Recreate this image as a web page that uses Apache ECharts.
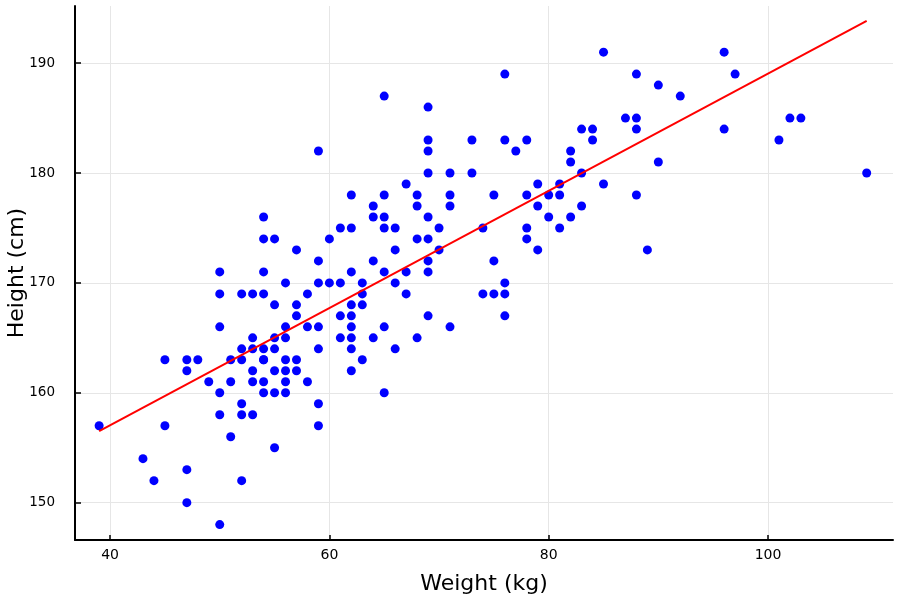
<!DOCTYPE html>
<html>
<head>
<meta charset="utf-8">
<script src="https://cdn.jsdelivr.net/npm/echarts@6/dist/echarts.min.js"></script>
<style>html,body{margin:0;padding:0;background:#fff}#c{width:900px;height:600px}</style>
</head>
<body>
<div id="c"></div>
<script>
// Observations: [weight kg, height cm]
const weights = [39,43,44,45,45,47,47,47,47,48,49,
  50,50,50,50,50,50,51,51,51,
  52,52,52,52,52,52,53,53,53,53,53,53,
  54,54,54,54,54,54,54,54,54,
  55,55,55,55,55,55,55,
  56,56,56,56,56,56,56,
  57,57,57,57,57,58,58,58,
  59,59,59,59,59,59,59,60,60,
  61,61,61,61,
  62,62,62,62,62,62,62,62,62,
  63,63,63,63,64,64,64,64,
  65,65,65,65,65,65,65,
  66,66,66,66,67,67,67,68,68,68,68,
  69,69,69,69,69,69,69,69,69,
  70,70,71,71,71,71,73,73,74,74,75,75,75,
  76,76,76,76,76,77,78,78,78,78,79,79,79,80,80,
  81,81,81,82,82,82,83,83,83,84,84,85,85,87,
  88,88,88,88,89,90,90,92,96,96,97,101,102,103,109];
const heights = [157,154,152,163,157,163,162,153,150,163,161,
  171,169,166,160,158,148,163,161,156,
  169,164,163,159,158,152,169,165,164,162,161,158,
  176,174,171,169,164,163,161,160,163,
  174,168,165,164,162,160,155,
  170,166,165,163,162,161,160,
  173,168,167,163,162,169,166,161,
  182,172,170,166,164,159,157,174,170,
  175,170,167,165,
  178,175,171,168,167,166,165,164,162,
  170,169,168,163,177,176,172,165,
  187,178,176,175,171,166,160,
  175,173,170,164,179,171,169,178,177,174,165,
  186,183,182,180,176,174,172,171,167,
  175,173,180,178,177,166,183,180,175,169,178,172,169,
  189,183,170,169,167,182,183,178,175,174,179,177,173,178,176,
  179,178,175,182,181,176,184,180,177,184,183,191,179,185,
  189,185,184,178,173,188,181,187,191,184,189,183,185,185,180];
// Fitted line endpoints
const fitX = [39, 109];
const fitY = [156.5, 193.85];
const xTicks = [40, 60, 80, 100];
const yTicks = [150, 160, 170, 180, 190];

const pts = weights.map((w, i) => [w, heights[i]]);
const fit = fitX.map((x, i) => [x, fitY[i]]);

const font = 'DejaVu Sans';
const chart = echarts.init(document.getElementById('c'), null, {renderer: 'canvas'});
chart.setOption({
  animation: false,
  backgroundColor: '#ffffff',
  grid: {left: 75, right: 7, top: 6, bottom: 60, containLabel: false, outerBoundsMode: 'none'},
  xAxis: {
    type: 'value', min: 36.8, max: 111.4,
    name: 'Weight (kg)', nameLocation: 'middle', nameGap: 33,
    nameTextStyle: {fontFamily: font, fontSize: 22, color: '#000'},
    axisLine: {show: true, onZero: false, lineStyle: {color: '#000', width: 2}},
    axisTick: {show: true, inside: true, length: 5, customValues: xTicks, lineStyle: {color: '#000', width: 1.5}},
    axisLabel: {customValues: xTicks, fontFamily: font, fontSize: 14, color: '#000', margin: 8},
    splitLine: {show: true, lineStyle: {color: '#e6e6e6', width: 1}}
  },
  yAxis: {
    type: 'value', min: 146.6, max: 195.2,
    name: 'Height (cm)', nameLocation: 'middle', nameGap: 47, nameRotate: 90,
    nameMoveOverlap: false,
    nameTextStyle: {fontFamily: font, fontSize: 22, color: '#000'},
    axisLine: {show: true, onZero: false, lineStyle: {color: '#000', width: 2}},
    axisTick: {show: true, inside: true, length: 6, customValues: yTicks, lineStyle: {color: '#000', width: 1.5}},
    axisLabel: {customValues: yTicks, fontFamily: font, fontSize: 13.5, color: '#000', margin: 20},
    splitLine: {show: true, lineStyle: {color: '#e6e6e6', width: 1}}
  },
  series: [
    {
      type: 'scatter', data: pts, symbol: 'circle', symbolSize: 9,
      itemStyle: {color: '#0000ff', opacity: 1}, z: 2, silent: true
    },
    {
      type: 'line', data: fit, showSymbol: false, symbol: 'none',
      lineStyle: {color: '#ff0000', width: 2}, z: 3, silent: true
    }
  ]
});
</script>
</body>
</html>
